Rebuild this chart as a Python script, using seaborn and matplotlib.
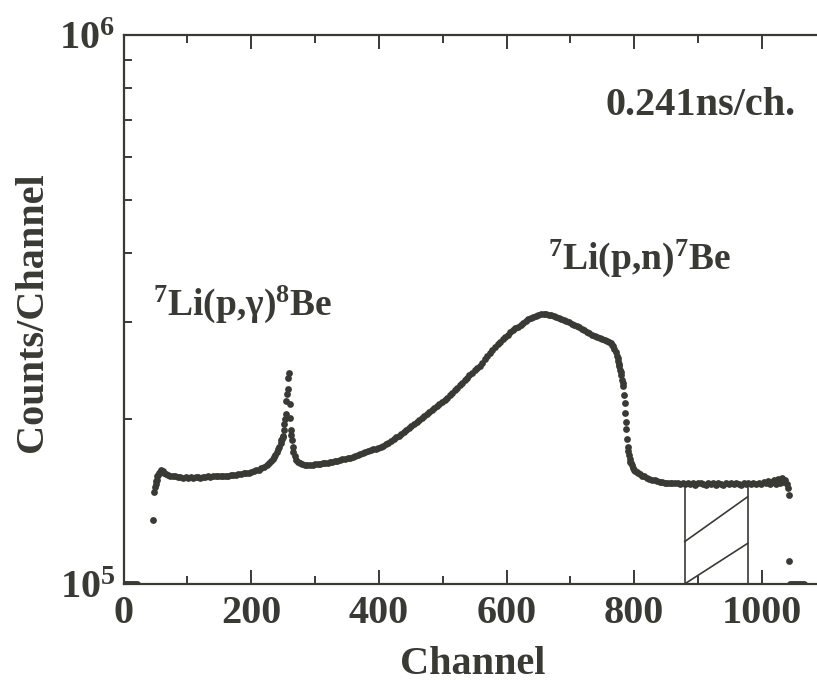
import numpy as np
import pandas as pd
import matplotlib
matplotlib.use("Agg")
import matplotlib.pyplot as plt
from matplotlib.ticker import FixedLocator, MultipleLocator, NullFormatter, FixedFormatter
import seaborn as sns

# ---------------- data ----------------
channels = [
    46, 48, 49, 50, 51, 52, 53, 54, 55, 57, 59, 61, 63, 66, 69, 73, 77, 81, 85, 89,
    93, 97, 101, 105, 109, 113, 116, 120, 124, 128, 132, 136, 140, 144, 148, 152, 156, 160, 164, 168,
    172, 176, 180, 184, 188, 192, 196, 200, 204, 208, 212, 216, 220, 224, 228, 231, 234, 236, 238, 240,
    242, 244, 246, 247, 248, 249, 250, 251, 252, 253, 254, 255, 256, 257, 258, 259, 260, 261, 262, 263,
    264, 265, 266, 268, 270, 273, 276, 280, 284, 288, 292, 296, 300, 304, 308, 312, 316, 320, 324, 327,
    331, 335, 339, 343, 347, 351, 355, 359, 363, 367, 371, 375, 379, 383, 387, 391, 395, 399, 403, 407,
    411, 415, 419, 423, 427, 431, 435, 439, 443, 447, 451, 455, 459, 463, 467, 471, 475, 479, 483, 487,
    491, 495, 499, 503, 507, 511, 515, 519, 523, 527, 531, 535, 538, 542, 546, 550, 554, 558, 562, 566,
    570, 574, 578, 582, 586, 590, 594, 598, 602, 606, 610, 614, 618, 622, 626, 630, 634, 638, 642, 646,
    650, 654, 658, 662, 666, 670, 674, 678, 682, 686, 690, 694, 698, 702, 706, 710, 714, 718, 722, 726,
    730, 734, 738, 742, 746, 750, 754, 758, 761, 763, 765, 767, 769, 771, 773, 774, 775, 776, 777, 778,
    779, 780, 781, 782, 783, 784, 785, 786, 787, 788, 789, 790, 791, 792, 793, 794, 795, 796, 798, 800,
    802, 804, 806, 809, 812, 816, 820, 824, 828, 832, 836, 840, 844, 848, 852, 856, 860, 864, 868, 872,
    876, 880, 884, 888, 892, 896, 900, 904, 908, 912, 916, 920, 924, 928, 932, 936, 940, 944, 948, 952,
    956, 960, 964, 968, 972, 976, 979, 983, 987, 991, 995, 999, 1003, 1007, 1010, 1013, 1016, 1019, 1022, 1025,
    1028, 1031, 1034, 1037, 1039, 1041, 1042, 1043,
]
counts = [
    131e3, 147e3, 150e3, 152e3, 154e3, 155e3, 157e3, 158e3, 159e3, 160e3, 161e3, 160.5e3, 159.5e3, 158.5e3, 158e3, 157.5e3, 157e3, 157e3, 156.5e3, 156.5e3,
    156e3, 156.5e3, 156e3, 156.5e3, 156e3, 156.5e3, 156.5e3, 156e3, 156.5e3, 156.5e3, 157e3, 156.5e3, 157e3, 157e3, 157e3, 157.5e3, 157e3, 157.5e3, 157.5e3, 158e3,
    158e3, 158e3, 158.5e3, 158.5e3, 159e3, 159e3, 159.5e3, 160e3, 160.5e3, 161e3, 161.5e3, 162.5e3, 163.5e3, 164.5e3, 166e3, 167.5e3, 169e3, 170.5e3, 172e3, 174e3,
    176e3, 178e3, 181e3, 183e3, 184e3, 185e3, 186e3, 191e3, 196e3, 200e3, 204e3, 215e3, 222e3, 227e3, 237e3, 242e3, 213e3, 201e3, 191e3, 187e3,
    183e3, 178e3, 174e3, 171e3, 168.5e3, 167e3, 166e3, 165.5e3, 165e3, 165e3, 165e3, 165e3, 165.1e3, 165.3e3, 165.5e3, 165.8e3, 166.1e3, 166.4e3, 166.7e3, 167e3,
    167.4e3, 167.8e3, 168.2e3, 168.6e3, 169e3, 169.4e3, 169.9e3, 170.5e3, 171.1e3, 171.7e3, 172.3e3, 173e3, 173.7e3, 174.4e3, 175.1e3, 175.8e3, 176.5e3, 177.1e3, 177.8e3, 178.5e3,
    179.7e3, 181e3, 182.3e3, 183.6e3, 184.9e3, 186.2e3, 187.4e3, 189.1e3, 190.7e3, 192.3e3, 193.9e3, 195.4e3, 197.1e3, 198.8e3, 200.5e3, 202.2e3, 203.9e3, 205.6e3, 207.4e3, 209.2e3,
    211e3, 212.9e3, 214.8e3, 216.7e3, 218.6e3, 220.7e3, 222.9e3, 225.2e3, 227.6e3, 230e3, 232.5e3, 234.8e3, 237.4e3, 240e3, 242.4e3, 245e3, 247.5e3, 250e3, 253.1e3, 256.5e3,
    259.9e3, 263.3e3, 266.7e3, 270.1e3, 273.2e3, 276.2e3, 279.1e3, 282e3, 284.7e3, 287.4e3, 290e3, 292.2e3, 294.3e3, 296.4e3, 298.8e3, 301.2e3, 303.5e3, 305.3e3, 306.8e3, 308e3,
    309.1e3, 310e3, 310.2e3, 310e3, 309.5e3, 308.6e3, 307.5e3, 306.5e3, 305e3, 304e3, 302.5e3, 301e3, 299.5e3, 298e3, 296.5e3, 295e3, 293.5e3, 292e3, 290e3, 288e3,
    286e3, 284.5e3, 283e3, 281.5e3, 280.5e3, 279.5e3, 278.5e3, 277.5e3, 276e3, 274.5e3, 273e3, 271e3, 268.5e3, 265e3, 260.5e3, 258e3, 255e3, 252e3, 249e3, 245.5e3,
    243e3, 240e3, 235.5e3, 232e3, 229e3, 221e3, 214e3, 204.5e3, 197.5e3, 191.5e3, 183.5e3, 178e3, 174.5e3, 171.5e3, 169e3, 167e3, 166e3, 164.5e3, 162.5e3, 161.5e3,
    160.5e3, 160e3, 159.5e3, 158.5e3, 157.5e3, 157e3, 156e3, 155.5e3, 155e3, 154.5e3, 154e3, 153.5e3, 153.5e3, 153e3, 153e3, 152.5e3, 152.5e3, 152.5e3, 152.5e3, 152e3,
    152.5e3, 152e3, 152.5e3, 152e3, 152.5e3, 151.5e3, 152.5e3, 153e3, 152e3, 151.5e3, 152.5e3, 152e3, 152.5e3, 151.5e3, 152.5e3, 152e3, 151.5e3, 152.5e3, 152e3, 152.5e3,
    152e3, 152.5e3, 152e3, 151.5e3, 152.5e3, 152e3, 152.5e3, 152e3, 153e3, 152e3, 153e3, 152e3, 153.5e3, 152.5e3, 154e3, 152e3, 153.5e3, 155e3, 152e3, 155.5e3,
    153e3, 156e3, 153.5e3, 155e3, 152e3, 149.5e3, 145.5e3, 110e3,
]
# channels whose content lies at / below the lower axis limit
floor_channels = [0, 3, 6, 9, 12, 15, 18, 21, 1045, 1048, 1051, 1054, 1057, 1060, 1063, 1066]
floor_counts = [1e5] * len(floor_channels)

# shaded (hatched) background window
box_x = [879, 978]
box_top = 1.5e5
hatch1_y = [1.0e5, 1.186e5]
hatch2_y = [1.194e5, 1.442e5]

x_ticks = [0, 200, 400, 600, 800, 1000]
x_ticklabels = ["0", "200", "400", "600", "800", "1000"]
y_ticks = [1e5, 1e6]
y_ticklabels = [r"$10^{5}$", r"$10^{6}$"]

# ---------------- style ----------------
sns.set_style("ticks")
INK = "#3a3a35"
plt.rcParams["font.family"] = ["Liberation Serif", "DejaVu Serif"]
plt.rcParams["font.weight"] = "bold"
plt.rcParams["mathtext.fontset"] = "custom"
plt.rcParams["mathtext.rm"] = "Liberation Serif:bold"
plt.rcParams["mathtext.bf"] = "Liberation Serif:bold"
plt.rcParams["mathtext.it"] = "Liberation Serif:bold"
plt.rcParams["mathtext.default"] = "bf"

fig = plt.figure(figsize=(8.17, 6.87), dpi=100)
ax = fig.add_axes([0.1513, 0.14993, 0.8592, 0.7991])

df = pd.DataFrame({"Channel": channels, "Counts": counts})
df_floor = pd.DataFrame({"Channel": floor_channels, "Counts": floor_counts})

sns.scatterplot(data=df, x="Channel", y="Counts", ax=ax, s=24, color=INK,
                linewidth=0, legend=False, zorder=3)
sns.scatterplot(data=df_floor, x="Channel", y="Counts", ax=ax, s=24, color=INK,
                linewidth=0, legend=False, zorder=3)

# hatched window
for bx in box_x:
    ax.plot([bx, bx], [1e5, box_top], color=INK, lw=1.2, zorder=2)
ax.plot(box_x, hatch1_y, color=INK, lw=1.2, zorder=2)
ax.plot(box_x, hatch2_y, color=INK, lw=1.2, zorder=2)

ax.set_yscale("log")
ax.set_xlim(0, 1100)
ax.set_ylim(1e5, 1e6)

ax.xaxis.set_major_locator(FixedLocator(x_ticks))
ax.xaxis.set_major_formatter(FixedFormatter(x_ticklabels))
ax.xaxis.set_minor_locator(MultipleLocator(100))
ax.yaxis.set_major_locator(FixedLocator(y_ticks))
ax.yaxis.set_major_formatter(FixedFormatter(y_ticklabels))
ax.yaxis.set_minor_locator(FixedLocator([k * 1e5 for k in range(2, 10)]))
ax.yaxis.set_minor_formatter(NullFormatter())

for s in ["left", "bottom", "top"]:
    ax.spines[s].set_visible(True)
    ax.spines[s].set_linewidth(1.6)
    ax.spines[s].set_color(INK)
ax.spines["right"].set_visible(False)

ax.tick_params(axis="both", which="both", direction="in", top=True, right=True,
               color=INK, width=1.4, labelcolor=INK)
ax.tick_params(axis="both", which="major", length=10, labelsize=29)
ax.tick_params(axis="both", which="minor", length=5.5)
ax.tick_params(axis="x", which="major", pad=8)
ax.tick_params(axis="y", which="major", pad=6)

ax.set_xlabel("Channel", fontsize=29, fontweight="bold", color=INK, va="center")
ax.xaxis.set_label_coords(0.497, -0.1475)
ax.set_ylabel("Counts/Channel", fontsize=29, fontweight="bold", color=INK, va="center")
ax.yaxis.set_label_coords(-0.13, 0.495)

ax.text(0.958, 0.855, "0.241ns/ch.", transform=ax.transAxes, ha="right",
        va="baseline", fontsize=29, fontweight="bold", color=INK)
ax.text(0.604, 0.574, r"$^{7}$Li(p,n)$^{7}$Be", transform=ax.transAxes, ha="left",
        va="baseline", fontsize=27, fontweight="bold", color=INK)
ax.text(0.0413, 0.49, r"$^{7}$Li(p,$\gamma$)$^{8}$Be", transform=ax.transAxes, ha="left",
        va="baseline", fontsize=27, fontweight="bold", color=INK)

fig.savefig("out.png", dpi=100)
